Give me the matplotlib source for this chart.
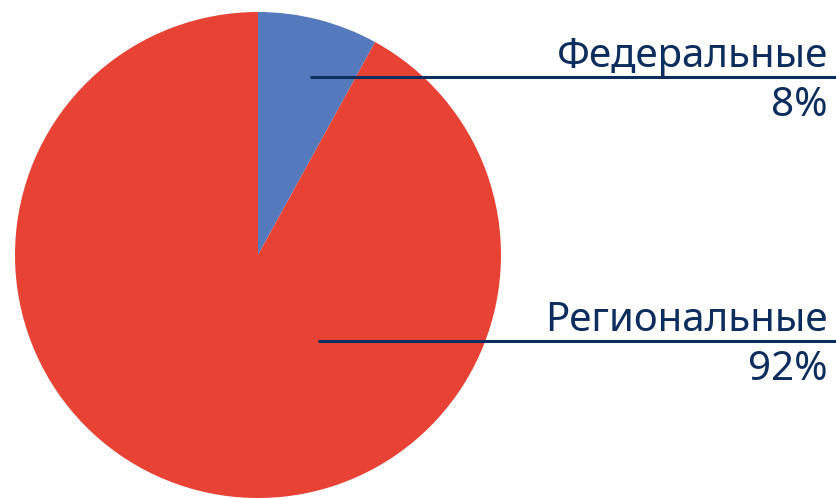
import matplotlib.pyplot as plt

labels = ['Федеральные', 'Региональные']
shares = [8, 92]
colors = ['#5479bd', '#e84235']

W, H = 837, 498
fig = plt.figure(figsize=(W / 100, H / 100), dpi=100)
ax = fig.add_axes([0, 0, 1, 1])

# круговая диаграмма в пиксельных координатах
ax.pie(shares, colors=colors, startangle=90, counterclock=False,
       center=(258, H - 255), radius=243, frame=True)
ax.set_xlim(0, W)
ax.set_ylim(0, H)
ax.axis('off')

navy = '#0d2d5e'
font = 'Noto Sans'
# подписи с линиями
rows = [(77, 310), (341, 318)]
for (ly, lx), name, val in zip(rows, labels, shares):
    ax.plot([lx, W], [H - ly, H - ly], color=navy, lw=2.2, solid_capstyle='butt')
    ax.text(828, H - ly + 10, name, ha='right', va='baseline', fontsize=29,
            color=navy, family=font)
    ax.text(828, H - ly - 39, f'{val}%', ha='right', va='baseline', fontsize=29,
            color=navy, family=font)

fig.savefig('out.png', dpi=100)
